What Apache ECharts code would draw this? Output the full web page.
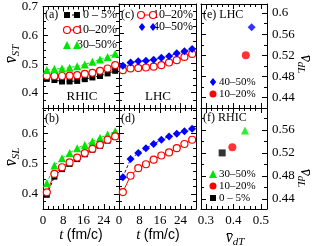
<!DOCTYPE html>
<html><head><meta charset="utf-8">
<script src="https://cdn.jsdelivr.net/npm/echarts@6/dist/echarts.min.js"></script>
<style>html,body{margin:0;padding:0;background:#fff}#c{width:314px;height:246px}</style>
</head><body><div id="c"></div>
<script>
// ---------------- data ----------------
const times = [1.5, 4.5, 7.5, 10.5, 13.5, 16.5, 19.5, 22.5, 25.5, 28.5];
// (a) RHIC  v_ST
const rhicST_0_5   = [0.449, 0.445, 0.440, 0.440, 0.442, 0.448, 0.454, 0.459, 0.468, 0.477];
const rhicST_10_20 = [0.459, 0.459, 0.459, 0.460, 0.462, 0.466, 0.470, 0.477, 0.485, 0.497];
const rhicST_30_50 = [0.480, 0.483, 0.485, 0.488, 0.493, 0.499, 0.508, 0.516, 0.525, 0.536];
// (c) LHC  v_ST
const lhcST_10_20 = [0.476, 0.482, 0.483, 0.485, 0.488, 0.493, 0.502, 0.510, 0.521, 0.531];
const lhcST_40_50 = [0.491, 0.502, 0.506, 0.508, 0.511, 0.518, 0.523, 0.533, 0.540, 0.548];
// (b) RHIC  v_SL
const rhicSL_0_5   = [0.397, 0.457, 0.482, 0.499, 0.515, 0.531, 0.546, 0.559, 0.576, 0.588];
const rhicSL_10_20 = [0.405, 0.466, 0.488, 0.504, 0.520, 0.535, 0.549, 0.562, 0.579, 0.590];
const rhicSL_30_50 = [0.435, 0.494, 0.518, 0.535, 0.551, 0.562, 0.573, 0.585, 0.596, 0.607];
// (d) LHC  v_SL
const lhcSL_10_20 = [0.406, 0.460, 0.485, 0.498, 0.513, 0.527, 0.537, 0.551, 0.565, 0.579];
const lhcSL_40_50 = [0.455, 0.515, 0.535, 0.551, 0.565, 0.579, 0.590, 0.599, 0.607, 0.615];
// (e) LHC  v_dL vs v_dT
const lhcCent = ['40–50%', '10–20%'];
const lhcVdT  = [0.466, 0.445];
const lhcVdL  = [0.573, 0.520];
// (f) RHIC v_dL vs v_dT
const rhicCent = ['30–50%', '10–20%', '0 – 5%'];
const rhicVdT  = [0.442, 0.396, 0.359];
const rhicVdL  = [0.559, 0.530, 0.520];
// tick labels
const tTicks    = [0, 8, 16, 24];
const tMinor    = [2, 4, 6, 10, 12, 14, 18, 20, 22, 26, 28];
const stTicks   = [0.4, 0.5, 0.6, 0.7];
const stMinor   = [0.375, 0.425, 0.45, 0.475, 0.525, 0.55, 0.575, 0.625, 0.65, 0.675];
const slTicks   = [0.4, 0.5, 0.6];
const slMinor   = [0.375, 0.425, 0.45, 0.475, 0.525, 0.55, 0.575, 0.625, 0.65, 0.675];
const dlTicksE  = [0.44, 0.48, 0.52, 0.56, 0.6];
const dlTicksF  = [0.44, 0.48, 0.52, 0.56];
const dlMinor   = [0.42, 0.46, 0.50, 0.54, 0.58];
const dtTicks   = [0.3, 0.4, 0.5];
const dtMinor   = [0.32, 0.34, 0.36, 0.38, 0.42, 0.44, 0.46, 0.48];

// ---------------- styling ----------------
const serif = '"Liberation Serif", "DejaVu Serif", serif';
const sans = '"Liberation Sans", Arial, sans-serif';
const RED = '#ff0000', BLK = '#000000', GRN = '#00e600', BLU = '#0000ff';

const grids = [
  {left: 43,  top: 4,   width: 76, height: 104}, // a
  {left: 43,  top: 108, width: 76, height: 101}, // b
  {left: 119, top: 4,   width: 77, height: 104}, // c
  {left: 119, top: 108, width: 77, height: 101}, // d
  {left: 201, top: 4,   width: 66, height: 104}, // e
  {left: 201, top: 108, width: 66, height: 101}  // f
].map(g => Object.assign(g, {show: false}));

const xAxes = [], yAxes = [];
const fmt = v => String(+(+v).toFixed(3));
function addAxis(list, gi, pos, min, max, major, minor, showLabels) {
  const base = {gridIndex: gi, position: pos, type: 'value', min, max, splitLine: {show: false}};
  const idx = list.length;
  list.push(Object.assign({}, base, {
    axisLine: {show: true, onZero: false, lineStyle: {color: '#000', width: 1}},
    axisTick: {show: true, inside: true, length: 5, customValues: major, lineStyle: {color: '#000', width: 1}},
    axisLabel: {show: showLabels, customValues: major, color: '#000', fontFamily: serif, fontSize: 13, margin: 5, formatter: fmt}
  }));
  list.push(Object.assign({}, base, {
    axisLine: {show: false, onZero: false},
    axisTick: {show: true, inside: true, length: 3, customValues: minor, lineStyle: {color: '#000', width: 1}},
    axisLabel: {show: false}
  }));
  return idx;
}
const yRanges = [[0.348, 0.70], [0.35, 0.684], [0.348, 0.70], [0.35, 0.684], [0.4206, 0.617], [0.4226, 0.598]];
const xRanges = [[0, 30], [0, 30], [0, 30], [0, 30], [0.282, 0.522], [0.282, 0.522]];
const yMaj = [stTicks, slTicks, stTicks, slTicks, dlTicksE, dlTicksF];
const yMin = [stMinor, slMinor, stMinor, slMinor, dlMinor, dlMinor];
const xMaj = [tTicks, tTicks, tTicks, tTicks, dtTicks, dtTicks];
const xMin = [tMinor, tMinor, tMinor, tMinor, dtMinor, dtMinor];
const X = [], Y = [];
for (let g = 0; g < 6; g++) {
  const [x0, x1] = xRanges[g], [y0, y1] = yRanges[g];
  X[g] = addAxis(xAxes, g, 'bottom', x0, x1, xMaj[g], xMin[g], g === 1 || g === 3 || g === 5);
  addAxis(xAxes, g, 'top', x0, x1, xMaj[g], xMin[g], false);
  Y[g] = addAxis(yAxes, g, 'left', y0, y1, yMaj[g], yMin[g], g === 0 || g === 1);
  addAxis(yAxes, g, 'right', y0, y1, yMaj[g], yMin[g], g === 4 || g === 5);
}

function lineS(g, vals, color, symbol, size, dashed, open) {
  return {
    type: 'line', xAxisIndex: X[g], yAxisIndex: Y[g],
    data: times.map((t, i) => [t, vals[i]]),
    symbol, symbolSize: size, showSymbol: true, color,
    lineStyle: {color, width: 1, type: dashed ? [3, 2] : 'solid'},
    itemStyle: open ? {color: '#fff', borderColor: color, borderWidth: 1.2} : {color, borderWidth: 0}
  };
}
const series = [
  lineS(0, rhicST_0_5, BLK, 'rect', 6, true, false),
  lineS(0, rhicST_10_20, RED, 'circle', 7, false, true),
  lineS(0, rhicST_30_50, GRN, 'triangle', 8, true, false),
  lineS(1, rhicSL_30_50, GRN, 'triangle', 8, true, false),
  lineS(1, rhicSL_0_5, BLK, 'rect', 6, true, false),
  lineS(1, rhicSL_10_20, RED, 'circle', 7, false, true),
  lineS(2, lhcST_10_20, RED, 'circle', 7, false, true),
  lineS(2, lhcST_40_50, BLU, 'diamond', 8, true, false),
  lineS(3, lhcSL_10_20, RED, 'circle', 7, false, true),
  lineS(3, lhcSL_40_50, BLU, 'diamond', 8, true, false)
];
const lhcStyle = [[BLU, 'diamond', 8], [RED, 'circle', 8]];
lhcCent.forEach((c, i) => series.push({type: 'scatter', xAxisIndex: X[4], yAxisIndex: Y[4], data: [[lhcVdT[i], lhcVdL[i]]],
  symbol: lhcStyle[i][1], symbolSize: lhcStyle[i][2], itemStyle: {color: lhcStyle[i][0]}}));
const rhicStyle = [[GRN, 'triangle', 8], [RED, 'circle', 8], [BLK, 'rect', 7]];
rhicCent.forEach((c, i) => series.push({type: 'scatter', xAxisIndex: X[5], yAxisIndex: Y[5], data: [[rhicVdT[i], rhicVdL[i]]],
  symbol: rhicStyle[i][1], symbolSize: rhicStyle[i][2], itemStyle: {color: rhicStyle[i][0]}}));

// ---------------- annotations / legends ----------------
const gfx = [];
function txt(x, y, text, opt) {
  gfx.push(Object.assign({type: 'text', x, y, style: Object.assign({text, fill: '#000', font: '12px ' + serif, align: 'left', verticalAlign: 'middle'}, opt || {})}));
}
function sym(x, y, kind, color, size, open) {
  const s = size / 2;
  let shape, type;
  if (kind === 'circle') { type = 'circle'; shape = {cx: x, cy: y, r: s}; }
  else if (kind === 'rect') { type = 'rect'; shape = {x: x - s, y: y - s, width: size, height: size}; }
  else if (kind === 'triangle') { type = 'polygon'; shape = {points: [[x, y - s], [x + s, y + s], [x - s, y + s]]}; }
  else { type = 'polygon'; shape = {points: [[x, y - s], [x + s * 0.8, y], [x, y + s], [x - s * 0.8, y]]}; }
  gfx.push({type, shape, z: 10, style: open ? {fill: '#fff', stroke: color, lineWidth: 1.2} : {fill: color}});
}
function seg(x1, x2, y, color, dashed) {
  gfx.push({type: 'line', shape: {x1, y1: y, x2, y2: y}, z: 9, style: {stroke: color, lineWidth: 1, lineDash: dashed ? [3, 2] : null}});
}
// (a)
txt(45, 15, '(a)');
seg(67, 77, 15, BLK, true); sym(67, 15, 'rect', BLK, 6); sym(77, 15, 'rect', BLK, 6);
txt(117, 15, '0 – 5%', {align: 'right'});
seg(67, 77, 30, RED, false); sym(67, 30, 'circle', RED, 7, true); sym(77, 30, 'circle', RED, 7, true);
txt(117, 30, '10–20%', {align: 'right'});
sym(67, 45, 'triangle', GRN, 8); sym(77, 45, 'triangle', GRN, 8);
txt(117, 45, '30–50%', {align: 'right'});
txt(82, 97, 'RHIC', {align: 'center', font: '13px ' + serif});
// (b)
txt(45, 119, '(b)');
// (c)
txt(121, 15, '(c)');
seg(141, 153, 15, RED, false); sym(141, 15, 'circle', RED, 7, true); sym(153, 15, 'circle', RED, 7, true);
txt(193, 15, '10–20%', {align: 'right'});
sym(142, 27, 'diamond', BLU, 8); sym(153, 27, 'diamond', BLU, 8);
txt(193, 27, '40–50%', {align: 'right'});
txt(158, 97, 'LHC', {align: 'center', font: '13px ' + serif});
// (d)
txt(121, 119, '(d)');
// (e)
txt(203, 15, '(e) LHC');
sym(213, 82, 'diamond', BLU, 8); txt(219, 82, '40–50%', {font: '11px ' + serif});
sym(213, 94, 'circle', RED, 7);  txt(219, 94, '10–20%', {font: '11px ' + serif});
// (f)
txt(203, 118, '(f) RHIC');
sym(213, 174, 'triangle', GRN, 8); txt(219, 174, '30–50%', {font: '11px ' + serif});
sym(213, 186, 'circle', RED, 7);   txt(219, 186, '10–20%', {font: '11px ' + serif});
sym(213, 198, 'rect', BLK, 6);     txt(219, 198, '0 – 5%', {font: '11px ' + serif});

// axis titles
const richV = {
  v: {font: 'italic 16px ' + serif, fill: '#000'},
  s: {font: 'italic 11px ' + serif, fill: '#000', padding: [8, 0, 0, 0]}
};
function vtitle(x, y, sub, rot) {
  gfx.push({type: 'text', x, y, rotation: rot, style: {text: '{v|v\u0304}{s|' + sub + '}', rich: richV, align: 'center', verticalAlign: 'middle'}});
}
vtitle(12, 54, 'ST', Math.PI / 2);
vtitle(12, 157, 'SL', Math.PI / 2);
vtitle(305, 64, 'dL', -Math.PI / 2);
vtitle(305, 178, 'dL', -Math.PI / 2);
vtitle(235, 238, 'dT', 0);
const richT = {t: {font: 'italic 15px ' + serif, fill: '#000'}, u: {font: '14px ' + sans, fill: '#000'}};
gfx.push({type: 'text', x: 81, y: 235, style: {text: '{t|t} {u|(fm/c)}', rich: richT, align: 'center', verticalAlign: 'middle'}});
gfx.push({type: 'text', x: 158, y: 235, style: {text: '{t|t} {u|(fm/c)}', rich: richT, align: 'center', verticalAlign: 'middle'}});

const chart = echarts.init(document.getElementById('c'), null, {renderer: 'canvas', width: 314, height: 246});
chart.setOption({
  animation: false,
  backgroundColor: '#fff',
  grid: grids,
  xAxis: xAxes,
  yAxis: yAxes,
  series,
  graphic: gfx
});
</script></body></html>
